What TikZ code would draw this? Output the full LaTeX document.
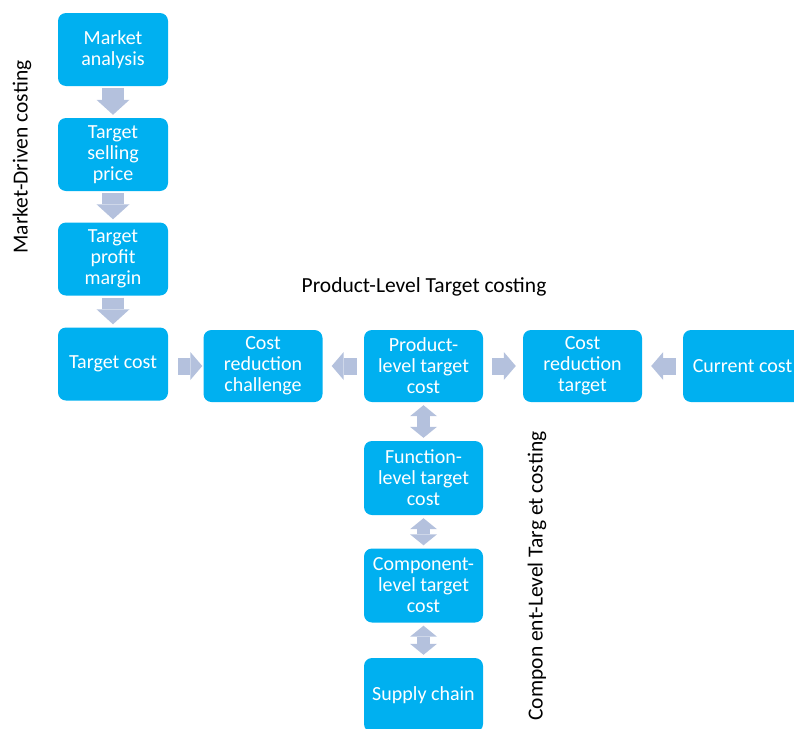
\documentclass[tikz,border=0pt]{standalone}
\usepackage{fontspec}
\setmainfont{Carlito}
\usetikzlibrary{arrows.meta}
\definecolor{boxblue}{RGB}{0,176,240}
\definecolor{arrowgray}{RGB}{180,193,221}
\begin{document}
\begin{tikzpicture}[x=1pt,y=-1pt,
 box/.style={rectangle, rounded corners=8pt, fill=boxblue, text=white, align=center, inner sep=0pt, font=\fontsize{20}{21}\selectfont},
 lbox/.style={box, minimum width=110pt, minimum height=73pt},
 hbox/.style={box, minimum width=119pt, minimum height=72pt},
 vbox/.style={box, minimum width=119pt, minimum height=74pt},
 downarrow/.style={draw=arrowgray, line width=22pt, -{Triangle[length=15pt,width=33pt,line width=0pt]}},
 sidearrow/.style={draw=arrowgray, line width=17pt, -{Triangle[length=12pt,width=28pt,line width=0pt]}},
 dblarrow/.style={draw=arrowgray, line width=13pt, {Triangle[length=11pt,width=27pt,line width=0pt]}-{Triangle[length=11pt,width=27pt,line width=0pt]}},
 lbl/.style={font=\fontsize{21.5}{24}\selectfont, text=black, inner sep=0pt}
]
\clip (0,0) rectangle (794,728);
\useasboundingbox (0,0) rectangle (794,728);

% left column
\node[lbox] (ma) at (113,49.5) {Market\\analysis};
\node[lbox] (tsp) at (113,154.5) {Target\\selling\\price};
\node[lbox] (tpm) at (113,259) {Target\\profit\\margin};
\node[lbox] (tc) at (113,364) {Target cost};

% middle row
\node[hbox] (crc) at (263,366) {Cost\\reduction\\challenge};
\node[hbox] (pl) at (423.5,366) {Product-\\level target\\cost};
\node[hbox] (crt) at (582.5,366) {Cost\\reduction\\target};
\node[hbox] (cc) at (742.5,366) {Current cost};

% vertical column
\node[vbox] (fl) at (423.5,478) {Function-\\level target\\cost};
\node[vbox] (cl) at (423.5,585.5) {Component-\\level target\\cost};
\node[vbox] (sc) at (423.5,695) {Supply chain};

% arrows
\draw[downarrow, shorten <=2pt, shorten >=3pt] (ma.south) -- (tsp.north);
\draw[downarrow, shorten <=2pt, shorten >=3pt] (tsp.south) -- (tpm.north);
\draw[downarrow, shorten <=2pt, shorten >=3pt] (tpm.south) -- (tc.north);

\draw[sidearrow, shorten <=10pt, shorten >=1pt] (tc.east |- crc.west) -- (crc.west);
\draw[sidearrow, shorten <=7pt, shorten >=9pt] (pl.west) -- (crc.east);
\draw[sidearrow, shorten <=9pt, shorten >=7pt] (pl.east) -- (crt.west);
\draw[sidearrow, shorten <=7pt, shorten >=9pt] (cc.west) -- (crt.east);

\draw[dblarrow, shorten <=3pt, shorten >=3pt] (pl.south) -- (fl.north);
\draw[dblarrow, shorten <=3pt, shorten >=3pt] (fl.south) -- (cl.north);
\draw[dblarrow, shorten <=3pt, shorten >=3pt] (cl.south) -- (sc.north);

% labels
\node[lbl, rotate=90] (mdc) at (22,157) {Market-Driven costing};
\node[lbl] (pltc) at (424,287) {Product-Level Target costing};
\node[lbl, rotate=90] (cltc) at (537,576) {Compon ent-Level Targ et costing};
\end{tikzpicture}
\end{document}
